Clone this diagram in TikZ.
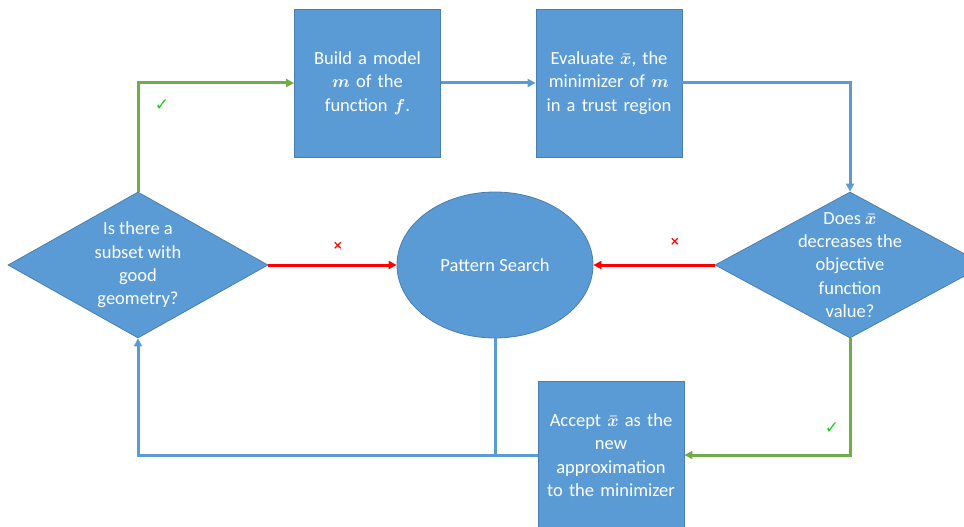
\documentclass[tikz,border=0pt]{standalone}
\usepackage{fontspec}
\setmainfont{Carlito}
\newfontfamily\symfont{DejaVu Sans}
\usetikzlibrary{shapes.geometric,arrows.meta}

\definecolor{boxblue}{HTML}{5B9BD5}
\definecolor{boxedge}{HTML}{4A7EB0}
\definecolor{flowblue}{HTML}{5B9BD5}
\definecolor{flowgreen}{HTML}{70AD47}
\definecolor{flowred}{HTML}{FF0000}
\definecolor{tickgreen}{HTML}{22CC22}

\tikzset{
  txt/.style={text=white, align=center, font=\fontsize{18.5}{23.3}\selectfont\boldmath},
  stepbox/.style={draw=boxedge, line width=0.8pt, fill=boxblue, rectangle,
    minimum width=146, minimum height=148, inner sep=0pt, txt, text width=142},
  decision/.style={draw=boxedge, line width=0.8pt, fill=boxblue, diamond,
    minimum width=270, minimum height=146, inner sep=0pt},
  oval/.style={draw=boxedge, line width=0.8pt, fill=boxblue, ellipse,
    minimum width=196, minimum height=146, inner sep=0pt},
  tip/.style={-{Triangle[length=8pt,width=8pt]}},
  conn/.style={line width=3pt},
  blueline/.style={conn, draw=flowblue},
  greenline/.style={conn, draw=flowgreen},
  redline/.style={conn, draw=flowred},
  tick/.style={text=tickgreen, font=\symfont\fontsize{17}{17}\selectfont},
  cross/.style={text=flowred, font=\symfont\bfseries\fontsize{12}{12}\selectfont},
}

\begin{document}
\begin{tikzpicture}[x=1pt, y=-1pt]
  \useasboundingbox (0,0) rectangle (964,527);
  \begin{scope}
    \clip (0,0) rectangle (964,527);

    % process steps
    \node[stepbox] (b1) at (367.5,83) {Build a model\\ $m$ of the\\ function $f$.};
    \node[stepbox] (b2) at (609,83) {Evaluate $\bar{x}$, the\\ minimizer of $m$\\ in a trust region};
    \node[stepbox] (b3) at (611,455) {Accept $\bar{x}$ as the\\ new\\ approximation\\ to the minimizer};

    % decisions
    \node[decision, minimum width=260] (d1) at (138,265)
      {\phantom{x}};
    \node[txt] (t1) at (d1.center) {Is there a\\ subset with\\ good\\ geometry?};
    \node[decision] (d2) at (850,265) {\phantom{x}};
    \node[txt] (t2) at (d2.center) {Does $\bar{x}$\\ decreases the\\ objective\\ function\\ value?};

    % fallback
    \node[oval] (ps) at (495,265) {\phantom{x}};
    \node[txt] (t3) at (ps.center) {Pattern Search};

    % connectors
    \draw[greenline, tip] (d1.north) |- (b1.west);
    \draw[blueline, tip] (b1.east) -- (b2.west);
    \draw[blueline, tip] (b2.east) -| (d2.north);
    \draw[greenline, tip] (d2.south) |- (b3.east);
    \draw[blueline, tip] (b3.west) -| (d1.south);
    \draw[blueline] (ps.south) -- (ps.south |- b3.west);
    \draw[redline, tip] (d1.east) -- (ps.west);
    \draw[redline, tip] (d2.west) -- (ps.east);

    % branch marks
    \node[tick] (k1) at (162,105) {✓};
    \node[tick] (k2) at (832,428) {✓};
    \node[cross] (x1) at (338,246) {×};
    \node[cross] (x2) at (675,242) {×};
  \end{scope}
\end{tikzpicture}
\end{document}
